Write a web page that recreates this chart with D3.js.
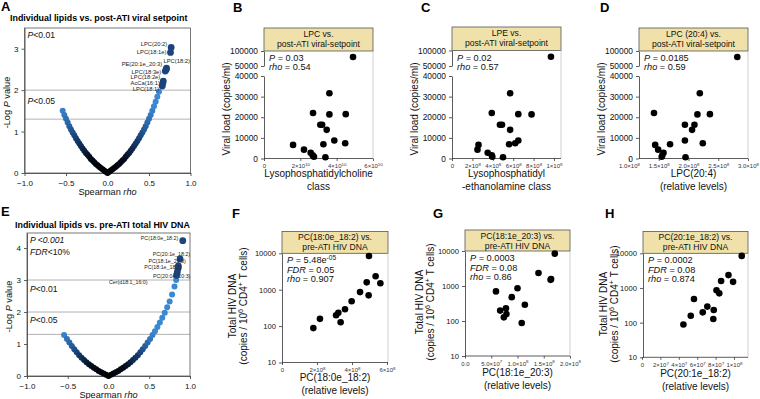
<!DOCTYPE html>
<html>
<head>
<meta charset="utf-8">
<script src="https://cdn.jsdelivr.net/npm/d3@7"></script>
<style>
  body { margin: 0; background: #fff; }
  svg { font-family: "Liberation Sans", Arial, Helvetica, sans-serif; }
</style>
</head>
<body>
<svg id="fig" width="760" height="399"></svg>
<script>
// ---- volcano A: individual lipids vs post-ATI viral setpoint ----
const volcanoA_rho = [-0.54, -0.52, -0.50, -0.48, -0.46, -0.44, -0.42, -0.40, -0.38, -0.36, -0.34, -0.32, -0.30, -0.28,
  -0.26, -0.24, -0.22, -0.20, -0.18, -0.16, -0.14, -0.12, -0.10, -0.08, -0.06, -0.04, -0.02, 0.00,
  0.02, 0.04, 0.06, 0.08, 0.10, 0.12, 0.14, 0.16, 0.18, 0.20, 0.22, 0.24, 0.26, 0.28, 0.30, 0.32,
  0.34, 0.36, 0.38, 0.40, 0.42, 0.44, 0.46, 0.48, 0.50, 0.52, 0.54, 0.56, 0.58, 0.60, 0.62];
const volcanoA_logp = [1.50, 1.40, 1.31, 1.22, 1.13, 1.05, 0.98, 0.91, 0.84, 0.77, 0.71, 0.65, 0.59, 0.54,
  0.48, 0.44, 0.39, 0.34, 0.30, 0.26, 0.22, 0.19, 0.15, 0.12, 0.09, 0.06, 0.03, 0.00,
  0.03, 0.06, 0.09, 0.12, 0.15, 0.19, 0.22, 0.26, 0.30, 0.34, 0.39, 0.44, 0.48, 0.54, 0.59, 0.65,
  0.71, 0.77, 0.84, 0.91, 0.98, 1.05, 1.13, 1.22, 1.31, 1.40, 1.50, 1.61, 1.72, 1.84, 1.96];
const hitsA_name = ["LPC(20:2)", "LPC(18:1e)", "PE(20:1e_20:3)", "LPC(18:2)", "LPC(18:3e)", "LPC(18:2e)", "AcCa(16:1)", "LPC(18:1)"];
const hitsA_rho = [0.767, 0.759, 0.708, 0.711, 0.696, 0.672, 0.667, 0.660];
const hitsA_logp = [3.03, 2.91, 2.50, 2.53, 2.46, 2.22, 2.17, 2.10];

// ---- volcano E: individual lipids vs pre-ATI total HIV DNA ----
const volcanoE_rho = [-0.545, -0.51, -0.48, -0.45, -0.42, -0.39, -0.36, -0.33, -0.30, -0.27, -0.24, -0.21, -0.18,
  -0.15, -0.12, -0.09, -0.06, -0.03, 0.00, 0.03, 0.06, 0.09, 0.12, 0.15, 0.18, 0.21, 0.24, 0.27, 0.30,
  0.33, 0.36, 0.39, 0.42, 0.45, 0.48, 0.51, 0.54, 0.57, 0.60, 0.63, 0.66, 0.69, 0.72, 0.75, 0.78, 0.81, 0.83];
const volcanoE_logp = [1.28, 1.16, 1.05, 0.94, 0.84, 0.74, 0.65, 0.57, 0.50, 0.43, 0.37, 0.31, 0.26,
  0.21, 0.16, 0.12, 0.08, 0.04, 0.00, 0.04, 0.08, 0.12, 0.16, 0.21, 0.26, 0.31, 0.37, 0.43, 0.50,
  0.57, 0.65, 0.74, 0.84, 0.94, 1.05, 1.16, 1.28, 1.40, 1.53, 1.67, 1.82, 1.98, 2.15, 2.33, 2.55, 2.80, 3.00];
const hitsE_name = ["PC(18:0e_18:2)", "PC(20:1e_18:2)", "PC(18:1e_20:3)", "PC(18:1e_18:2)", "PC(20:0e_20:3)", "Cer(d18:1_16:0)"];
const hitsE_rho = [0.911, 0.878, 0.857, 0.854, 0.845, 0.835];
const hitsE_logp = [4.23, 3.66, 3.44, 3.37, 3.26, 3.16];

const rhoTicks = [-1, -0.5, 0, 0.5, 1];

// ---- B, C, D: post-ATI viral setpoint ----
const viralLoad = [80000, 31600, 22050, 21500, 21370, 16340, 16340, 13900, 8700, 7400, 6900, 6600, 4300, 2800, 1560, 880, 590];
const lpcClass = [4.9e10, 3.6e10, 2.7e10, 4.5e10, 3.6e10, 3.1e10, 3.2e10, 3.45e10, 3.87e10, 4.47e10, 3.27e10, 1.6e10, 2.2e10, 2.57e10, 2.68e10, 2.75e10, 3.38e10];
const lpeClass = [9.7e8, 5.7e8, 3.9e8, 6.5e8, 7.8e8, 4.7e8, 4.9e8, 5.7e8, 6.5e8, 6.2e8, 5.6e8, 2.6e8, 2.5e8, 3.5e8, 3.9e8, 3.95e8, 5.0e8];
const lpc204 = [2.82e8, 2.19e8, 1.42e8, 2.36e8, 2.15e8, 1.94e8, 2.10e8, 2.06e8, 1.94e8, 2.24e8, 1.69e8, 1.44e8, 1.49e8, 1.58e8, 1.56e8, 1.55e8, 1.95e8];
const viralTicksLow = [0, 10000, 20000, 30000, 40000];
const viralTicksHigh = [50000, 100000];

// ---- F, G, H: pre-ATI total HIV DNA ----
const hivDNA = [8400, 2350, 1590, 1500, 860, 700, 480, 290, 232, 198, 158, 127, 88];
const pc180e182 = [4.97e8, 5.35e8, 4.84e8, 5.62e8, 4.46e8, 4.95e8, 3.98e8, 3.6e8, 3.22e8, 3.09e8, 2.17e8, 3.35e8, 1.79e8];
const pc181e203 = [1.71e8, 1.40e8, 1.64e8, 1.63e8, 1.0e8, 0.59e8, 0.89e8, 1.14e8, 0.78e8, 0.67e8, 0.79e8, 0.74e8, 1.08e8];
const pc201e182 = [1.084e8, 0.94e8, 0.86e8, 0.99e8, 0.81e8, 0.84e8, 0.565e8, 0.71e8, 0.78e8, 0.66e8, 0.53e8, 0.775e8, 0.45e8];
const dnaTicks = [10, 100, 1000, 10000];

const bTicks = [0, 2e10, 4e10, 6e10];
const cTicks = [0, 2e8, 4e8, 6e8, 8e8, 1e9];
const dTicks = [1.0e8, 1.5e8, 2.0e8, 2.5e8, 3.0e8];
const fTicks = [0, 2e8, 4e8, 6e8];
const gTicks = [0, 5e7, 1e8, 1.5e8, 2e8];
const hTicks = [0, 2e7, 4e7, 6e7, 8e7, 1e8];

const svg = d3.select("#fig");
svg.append("rect").attr("width", 760).attr("height", 399).attr("fill", "#fff");

// text with italic / superscript pieces
function rich(g, x, y, parts, size, anchor) {
  const t = g.append("text").attr("x", x).attr("y", y).attr("font-size", size)
    .attr("text-anchor", anchor || "start").attr("fill", "#111");
  let shift = 0;
  parts.forEach(function(p) {
    if (typeof p === "string") p = { t: p };
    const s = t.append("tspan").text(p.t);
    const want = p.sup ? -size * 0.4 : 0;
    if (want !== shift) { s.attr("dy", want - shift); shift = want; }
    if (p.sup) s.attr("font-size", size * 0.72);
    if (p.i) s.attr("font-style", "italic");
  });
  return t;
}

function sci(v, dec) {
  if (v === 0) return [dec ? (0).toFixed(dec) : "0", null];
  const e = Math.floor(Math.log10(v) + 1e-9);
  return [(v / Math.pow(10, e)).toFixed(dec) + "\u00d710", String(e)];
}

function styleAxis(sel, size) {
  sel.selectAll("path.domain").attr("stroke", "#333").attr("stroke-width", 0.8);
  sel.selectAll(".tick line").attr("stroke", "#333").attr("stroke-width", 0.8);
  sel.selectAll(".tick text").attr("font-size", size).attr("fill", "#111").attr("font-family", null);
  sel.attr("font-family", null);
}

function panelLetter(x, y, s) {
  svg.append("text").attr("x", x).attr("y", y).attr("font-size", 13).attr("font-weight", "bold").text(s);
}

function volcano(o) {
  const g = svg.append("g");
  const x = d3.scaleLinear().domain([-1, 1]).range([o.left, o.right]);
  const y = d3.scaleLinear().domain([0, o.yMax]).range([o.bottom, o.top]);
  // black near rho = 0, fading to mid blue on the outer arms
  const shade = d3.scaleLinear().domain([0, 0.2, 0.36, 0.56]).range(["#000000", "#040b18", "#14386b", "#3b88d2"]).clamp(true);

  g.append("text").attr("x", o.titleX).attr("y", o.titleY).attr("font-size", 8.9).attr("font-weight", "bold").text(o.title);

  o.cutoffs.forEach(function(c) {
    g.append("line").attr("x1", o.left).attr("x2", o.right).attr("y1", y(c)).attr("y2", y(c))
      .attr("stroke", "#a0a0a0").attr("stroke-width", 0.8);
  });

  const xa = g.append("g").attr("transform", "translate(0," + o.bottom + ")")
    .call(d3.axisBottom(x).tickValues(rhoTicks).tickFormat(d3.format(".1f")).tickSize(3).tickSizeOuter(0));
  styleAxis(xa, 8);
  xa.selectAll(".tick text").attr("dy", "0.85em");
  const ya = g.append("g").attr("transform", "translate(" + o.left + ",0)")
    .call(d3.axisLeft(y).tickValues(o.yTicks).tickFormat(d3.format("d")).tickSize(3).tickSizeOuter(0));
  styleAxis(ya, 8);

  g.append("rect").attr("x", o.left).attr("y", o.top).attr("width", o.right - o.left).attr("height", o.bottom - o.top)
    .attr("fill", "none").attr("stroke", "#555").attr("stroke-width", 0.8);

  const pts = o.rho.map(function(r, i) { return { r: r, p: o.logp[i] }; });
  g.selectAll("circle.pt").data(pts).enter().append("circle").attr("class", "pt")
    .attr("cx", function(d) { return x(d.r); }).attr("cy", function(d) { return y(d.p); })
    .attr("r", 3).attr("fill", function(d) { return shade(Math.abs(d.r)); });

  const hits = o.hitNames.map(function(n, i) { return { n: n, r: o.hitRho[i], p: o.hitLogp[i], pos: o.labelPos[i] }; });
  g.selectAll("circle.hit").data(hits).enter().append("circle").attr("class", "hit")
    .attr("cx", function(d) { return x(d.r); }).attr("cy", function(d) { return y(d.p); })
    .attr("r", 3.4).attr("fill", "#1d437c");
  g.selectAll("text.lab").data(hits).enter().append("text").attr("class", "lab")
    .attr("x", function(d) { return x(d.r) + d.pos[0]; }).attr("y", function(d) { return y(d.p) + d.pos[1]; })
    .attr("text-anchor", function(d) { return d.pos[2]; })
    .attr("font-size", o.labelSize).attr("fill", "#222").text(function(d) { return d.n; });

  o.notes.forEach(function(nt) { rich(g, o.left + 3, nt.y, nt.parts, 8.6, "start"); });

  rich(g, (o.left + o.right) / 2, o.bottom + 22, ["Spearman ", { t: "rho", i: true }], 9.2, "middle");
  rich(g, 0, 0, ["-Log ", { t: "P", i: true }, " value"], 9.2, "middle")
    .attr("transform", "translate(" + o.yLabX + "," + ((o.top + o.bottom) / 2 + 2) + ") rotate(-90)");
}

function scatter(o) {
  const g = svg.append("g");
  const x = d3.scaleLinear().domain(o.xDomain).range(o.xRange);
  let yPos;
  if (o.log) {
    const yl = d3.scaleLog().domain([10, 10000]).range([o.bottom, o.plotTop]);
    yPos = yl;
    const ya = g.append("g").attr("transform", "translate(" + o.axisL + ",0)")
      .call(d3.axisLeft(yl).tickValues(dnaTicks).tickFormat(d3.format("d")).tickSize(3).tickSizeOuter(0));
    styleAxis(ya, 7.6);
  } else {
    // broken axis: linear 0-40000 below, 50000-100000 compressed above
    const lo = d3.scaleLinear().domain([0, 40000]).range([o.bottom, 76]);
    const hi = d3.scaleLinear().domain([50000, 100000]).range([66, o.plotTop]);
    yPos = function(v) { return v > 45000 ? hi(v) : lo(v); };
    [[lo, viralTicksLow], [hi, viralTicksHigh]].forEach(function(a) {
      const ya = g.append("g").attr("transform", "translate(" + o.axisL + ",0)")
        .call(d3.axisLeft(a[0]).tickValues(a[1]).tickFormat(d3.format("d")).tickSize(3).tickSizeOuter(0));
      styleAxis(ya, 8.4);
    });
  }

  // header strip
  g.append("rect").attr("x", o.axisL).attr("y", o.headTop).attr("width", o.axisR - o.axisL)
    .attr("height", o.plotTop - o.headTop).attr("fill", "#efe1a9").attr("stroke", "#555").attr("stroke-width", 0.8);
  o.head.forEach(function(line, i) {
    g.append("text").attr("x", (o.axisL + o.axisR) / 2).attr("y", o.headTop + 8.5 + i * 10)
      .attr("text-anchor", "middle").attr("font-size", 8.6).attr("fill", "#111").text(line);
  });
  g.append("line").attr("x1", o.axisR).attr("x2", o.axisR).attr("y1", o.plotTop).attr("y2", o.bottom)
    .attr("stroke", "#bbb").attr("stroke-width", 0.7);

  // x axis
  const xa = g.append("g").attr("transform", "translate(0," + o.bottom + ")")
    .call(d3.axisBottom(x).tickValues(o.ticks).tickSize(2.5).tickSizeOuter(0));
  styleAxis(xa, 6);
  xa.select("path.domain").remove();
  xa.append("line").attr("x1", o.axisL).attr("x2", o.axisR).attr("stroke", "#333").attr("stroke-width", 0.8);
  xa.selectAll(".tick text").each(function(v) {
    const t = d3.select(this).text("").attr("fill", "#333");
    const s = sci(v, o.dec);
    t.append("tspan").text(s[0]);
    if (s[1]) t.append("tspan").attr("dy", -2.4).attr("font-size", 4.4).text(s[1]);
  });

  // dots
  const pts = o.xs.map(function(v, i) { return { x: v, y: o.ys[i] }; });
  g.selectAll("circle").data(pts).enter().append("circle")
    .attr("cx", function(d) { return x(d.x); }).attr("cy", function(d) { return yPos(d.y); })
    .attr("r", 3.3).attr("fill", "#000");

  // stats
  o.stats.forEach(function(parts, i) { rich(g, o.axisL + 5, o.plotTop + 10 + i * o.statGap, parts, 9.2, "start"); });

  // axis titles
  o.xTitle.forEach(function(line, i) {
    g.append("text").attr("x", (o.axisL + o.axisR) / 2).attr("y", o.xTitleY + i * 12.5)
      .attr("text-anchor", "middle").attr("font-size", 10).attr("fill", "#111").text(line);
  });
  o.yTitle.forEach(function(parts, i) {
    rich(g, 0, 0, parts, 10, "middle")
      .attr("transform", "translate(" + (o.yTitleX + i * 10.5) + "," + o.yTitleMid + ") rotate(-90)");
  });
}

// ---------------- panels ----------------
panelLetter(1, 11, "A");
volcano({
  left: 24.5, right: 190.5, top: 28, bottom: 173, yMax: 3.5, yTicks: [0, 1, 2, 3],
  title: "Individual lipids vs. post-ATI viral setpoint", titleX: 10, titleY: 21,
  cutoffs: [2, 1.3], rho: volcanoA_rho, logp: volcanoA_logp,
  hitNames: hitsA_name, hitRho: hitsA_rho, hitLogp: hitsA_logp, labelSize: 5.8,
  labelPos: [[-4, -1.5, "end"], [-4, 2, "end"], [-4, -3, "end"], [-3, -5, "start"], [-4, 2.5, "end"],
             [-3, -2, "end"], [-3, 1.5, "end"], [-3, 4.5, "end"]],
  notes: [{ y: 38, parts: [{ t: "P", i: true }, "<0.01"] }, { y: 104, parts: [{ t: "P", i: true }, "<0.05"] }],
  yLabX: 10
});

panelLetter(1, 216, "E");
volcano({
  left: 27, right: 190, top: 233, bottom: 376, yMax: 4.47, yTicks: [0, 1, 2, 3, 4],
  title: "Individual lipids vs. pre-ATI total HIV DNA", titleX: 15, titleY: 228,
  cutoffs: [3, 2, 1.3], rho: volcanoE_rho, logp: volcanoE_logp,
  hitNames: hitsE_name, hitRho: hitsE_rho, hitLogp: hitsE_logp, labelSize: 5.3,
  labelPos: [[-4.5, -1, "end"], [10, -3, "end"], [7.5, -2.5, "end"], [3.5, 0.5, "end"], [13, 6.5, "end"], [-29, 9.5, "end"]],
  notes: [{ y: 243, parts: [{ t: "P <0.001", i: true }] }, { y: 255, parts: [{ t: "FDR", i: true }, "<10%"] },
          { y: 292, parts: [{ t: "P", i: true }, "<0.01"] }, { y: 323, parts: [{ t: "P", i: true }, "<0.05"] }],
  yLabX: 12
});

const vlTitle = [["Viral load (copies/ml)"]];
const dnaTitle = [["Total HIV DNA"], ["(copies / 10", { t: "6", sup: true }, " CD4", { t: "+", sup: true }, " T cells)"]];

panelLetter(233, 12, "B");
scatter({
  axisL: 264, axisR: 373, xDomain: [0, 6e10], xRange: [264, 373], ticks: bTicks, dec: 0,
  headTop: 28, plotTop: 51, bottom: 158.5, log: false, xs: lpcClass, ys: viralLoad,
  head: ["LPC vs.", "post-ATI viral-setpoint"],
  stats: [[{ t: "P", i: true }, " = 0.03"], [{ t: "rho", i: true }, " = 0.54"]], statGap: 9,
  xTitle: ["Lysophosphatidylcholine", "class"], xTitleY: 177,
  yTitle: vlTitle, yTitleX: 229.5, yTitleMid: 109
});

panelLetter(421, 12, "C");
scatter({
  axisL: 452, axisR: 561, xDomain: [0, 1e9], xRange: [452, 554], ticks: cTicks, dec: 0,
  headTop: 27, plotTop: 50.5, bottom: 158.5, log: false, xs: lpeClass, ys: viralLoad,
  head: ["LPE vs.", "post-ATI viral-setpoint"],
  stats: [[{ t: "P", i: true }, " = 0.02"], [{ t: "rho", i: true }, " = 0.57"]], statGap: 9,
  xTitle: ["Lysophosphatidyl", "-ethanolamine class"], xTitleY: 177,
  yTitle: vlTitle, yTitleX: 417.5, yTitleMid: 109
});

panelLetter(600, 12, "D");
scatter({
  axisL: 639, axisR: 748, xDomain: [1.0e8, 3.0e8], xRange: [629, 748], ticks: dTicks, dec: 1,
  headTop: 28, plotTop: 51, bottom: 158.5, log: false, xs: lpc204, ys: viralLoad,
  head: ["LPC (20:4) vs.", "post-ATI viral-setpoint"],
  stats: [[{ t: "P", i: true }, " = 0.0185"], [{ t: "rho", i: true }, " = 0.59"]], statGap: 9,
  xTitle: ["LPC(20:4)", "(relative levels)"], xTitleY: 177,
  yTitle: vlTitle, yTitleX: 604.5, yTitleMid: 109
});

panelLetter(232, 218, "F");
scatter({
  axisL: 282, axisR: 388, xDomain: [0, 6e8], xRange: [282, 387], ticks: fTicks, dec: 0,
  headTop: 231.5, plotTop: 253.3, bottom: 362.5, log: true, xs: pc180e182, ys: hivDNA,
  head: ["PC(18:0e_18:2) vs.", "pre-ATI HIV DNA"],
  stats: [[{ t: "P", i: true }, " = 5.48e", { t: "-05", sup: true }], [{ t: "FDR", i: true }, " = 0.05"], [{ t: "rho", i: true }, " = 0.907"]],
  statGap: 9.5, xTitle: ["PC(18:0e_18:2)", "(relative levels)"], xTitleY: 381,
  yTitle: dnaTitle, yTitleX: 236, yTitleMid: 306
});

panelLetter(433, 218, "G");
scatter({
  axisL: 465, axisR: 570, xDomain: [0, 2e8], xRange: [465, 570], ticks: gTicks, dec: 1,
  headTop: 230, plotTop: 251, bottom: 356, log: true, xs: pc181e203, ys: hivDNA,
  head: ["PC(18:1e_20:3) vs.", "pre-ATI HIV DNA"],
  stats: [[{ t: "P", i: true }, " = 0.0003"], [{ t: "FDR", i: true }, " = 0.08"], [{ t: "rho", i: true }, " = 0.86"]],
  statGap: 9.5, xTitle: ["PC(18:1e_20:3)", "(relative levels)"], xTitleY: 376,
  yTitle: dnaTitle, yTitleX: 423, yTitleMid: 302
});

panelLetter(605, 218, "H");
scatter({
  axisL: 643, axisR: 748, xDomain: [0, 1e8], xRange: [642, 734], ticks: hTicks, dec: 0,
  headTop: 231.5, plotTop: 253.3, bottom: 357.3, log: true, xs: pc201e182, ys: hivDNA,
  head: ["PC(20:1e_18:2) vs.", "pre-ATI HIV DNA"],
  stats: [[{ t: "P", i: true }, " = 0.0002"], [{ t: "FDR", i: true }, " = 0.08"], [{ t: "rho", i: true }, " = 0.874"]],
  statGap: 9.5, xTitle: ["PC(20:1e_18:2)", "(relative levels)"], xTitleY: 377,
  yTitle: dnaTitle, yTitleX: 607, yTitleMid: 304
});
</script>
</body>
</html>
